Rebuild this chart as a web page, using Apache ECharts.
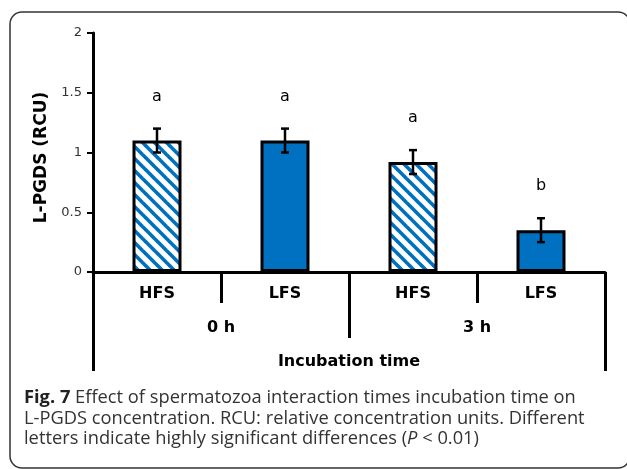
<!DOCTYPE html>
<html>
<head>
<meta charset="utf-8">
<script src="https://cdn.jsdelivr.net/npm/echarts@6/dist/echarts.min.js"></script>
<style>
html,body{margin:0;padding:0;background:#fff;}
#chart{width:627px;height:469px;}
</style>
</head>
<body>
<div id="chart"></div>
<script>
// ---- data ----
var categories = ['HFS', 'LFS', 'HFS', 'LFS'];
var groups = ['0 h', '3 h'];
var values = [1.1, 1.1, 0.92, 0.35];
var errors = [0.1, 0.1, 0.1, 0.1];
var letters = ['a', 'a', 'a', 'b'];
var fills = ['hatch', 'solid', 'hatch', 'solid'];
var yTicks = { min: 0, max: 2, interval: 0.5 };
var xTitle = 'Incubation time';
var yTitle = 'L-PGDS (RCU)';
var captionLines = [
  ['Fig. 7', ' Effect of spermatozoa interaction times incubation time on'],
  ['', 'L-PGDS concentration. RCU: relative concentration units. Different'],
  ['', 'letters indicate highly significant differences (', 'P', ' < 0.01)']
];

var BLUE = '#0070C0';
function makeHatch() {
  var s = 12;
  var c = document.createElement('canvas');
  c.width = s; c.height = s;
  var g = c.getContext('2d');
  g.fillStyle = '#fff';
  g.fillRect(0, 0, s, s);
  g.strokeStyle = BLUE;
  g.lineWidth = 3.6;
  for (var k = -1; k <= 1; k++) {
    g.beginPath();
    g.moveTo(-2, k * s - 2);
    g.lineTo(s + 2, s + k * s + 2);
    g.stroke();
  }
  return c;
}
var hatch = makeHatch();

var barData = values.map(function (v, i) {
  return {
    value: v,
    itemStyle: { color: fills[i] === 'hatch' ? { image: hatch, repeat: 'repeat' } : BLUE }
  };
});
var errData = values.map(function (v, i) { return [i, v - errors[i], v + errors[i]]; });

var chart = echarts.init(document.getElementById('chart'), null, { renderer: 'canvas' });
var FONT = 'DejaVu Sans';
var CAP = 'Open Sans';
var CAPSIZE = 18.3;

var graphics = [{
  type: 'rect',
  shape: { x: 10, y: 12, width: 620, height: 456, r: 12 },
  style: { fill: 'none', stroke: '#333', lineWidth: 1.5 },
  silent: true, z: -10
}];
var capY = [398, 419, 439];
captionLines.forEach(function (ln, i) {
  var txt, rich = {
    b: { fontFamily: CAP, fontSize: CAPSIZE, fontWeight: 'bold', fill: '#222' },
    i: { fontFamily: CAP, fontSize: CAPSIZE, fontStyle: 'italic', fill: '#333' }
  };
  if (i === 0) txt = '{b|' + ln[0] + '}' + ln[1];
  else if (i === 2) txt = ln[1] + '{i|' + ln[2] + '}' + ln[3];
  else txt = ln[1];
  graphics.push({
    type: 'text', x: 24, y: capY[i],
    style: { text: txt, rich: rich, fontFamily: CAP, fontSize: CAPSIZE, fill: '#333', verticalAlign: 'middle', align: 'left' }
  });
});

var option = {
  animation: false,
  backgroundColor: '#fff',
  grid: { left: 93, right: 22, top: 33, bottom: 197 },
  graphic: graphics,
  xAxis: [
    {
      type: 'category', data: categories, position: 'bottom',
      axisLine: { show: true, lineStyle: { color: '#000', width: 3 } },
      axisTick: { show: true, interval: 0, length: 31, lineStyle: { color: '#000', width: 3 } },
      axisLabel: { interval: 0, margin: 14, fontFamily: FONT, fontWeight: 'bold', fontSize: 16, color: '#000' },
      splitLine: { show: false }
    },
    {
      type: 'category', data: groups, position: 'bottom',
      axisLine: { show: false },
      axisTick: { show: true, interval: 0, length: 66, lineStyle: { color: '#000', width: 3 } },
      axisLabel: { interval: 0, margin: 48, fontFamily: FONT, fontWeight: 'bold', fontSize: 16, color: '#000' },
      splitLine: { show: false }
    },
    {
      type: 'category', data: [''], position: 'bottom',
      axisLine: { show: false },
      axisTick: { show: true, interval: 0, length: 99, lineStyle: { color: '#000', width: 3 } },
      axisLabel: { show: false },
      name: xTitle, nameLocation: 'middle', nameGap: 82,
      nameTextStyle: { fontFamily: FONT, fontWeight: 'bold', fontSize: 16, color: '#000' },
      splitLine: { show: false }
    }
  ],
  yAxis: {
    type: 'value', min: yTicks.min, max: yTicks.max, interval: yTicks.interval,
    axisLine: { show: true, lineStyle: { color: '#000', width: 3 } },
    axisTick: { show: true, length: 6, lineStyle: { color: '#000', width: 2 } },
    axisLabel: { margin: 11, fontFamily: FONT, fontSize: 13, color: '#333' },
    splitLine: { show: false },
    name: yTitle, nameLocation: 'middle', nameGap: 37, nameRotate: 90,
    nameTextStyle: { fontFamily: FONT, fontWeight: 'bold', fontSize: 17, color: '#000', padding: [0, 10, 0, 0] }
  },
  series: [
    {
      type: 'bar', xAxisIndex: 0, data: barData, barWidth: 49,
      itemStyle: { borderColor: '#000', borderWidth: 3 },
      label: {
        show: true, position: 'top', distance: 36,
        formatter: function (p) { return letters[p.dataIndex]; },
        fontFamily: FONT, fontSize: 16, color: '#000'
      }
    },
    {
      type: 'custom', xAxisIndex: 0, data: errData, z: 5,
      renderItem: function (params, api) {
        var lo = api.coord([api.value(0), api.value(1)]);
        var hi = api.coord([api.value(0), api.value(2)]);
        var hw = 4;
        var st = { stroke: '#000', lineWidth: 2.5 };
        return {
          type: 'group', children: [
            { type: 'line', shape: { x1: lo[0], y1: lo[1], x2: hi[0], y2: hi[1] }, style: st },
            { type: 'line', shape: { x1: lo[0] - hw, y1: lo[1], x2: lo[0] + hw, y2: lo[1] }, style: st },
            { type: 'line', shape: { x1: hi[0] - hw, y1: hi[1], x2: hi[0] + hw, y2: hi[1] }, style: st }
          ]
        };
      }
    }
  ]
};
chart.setOption(option);
</script>
</body>
</html>
